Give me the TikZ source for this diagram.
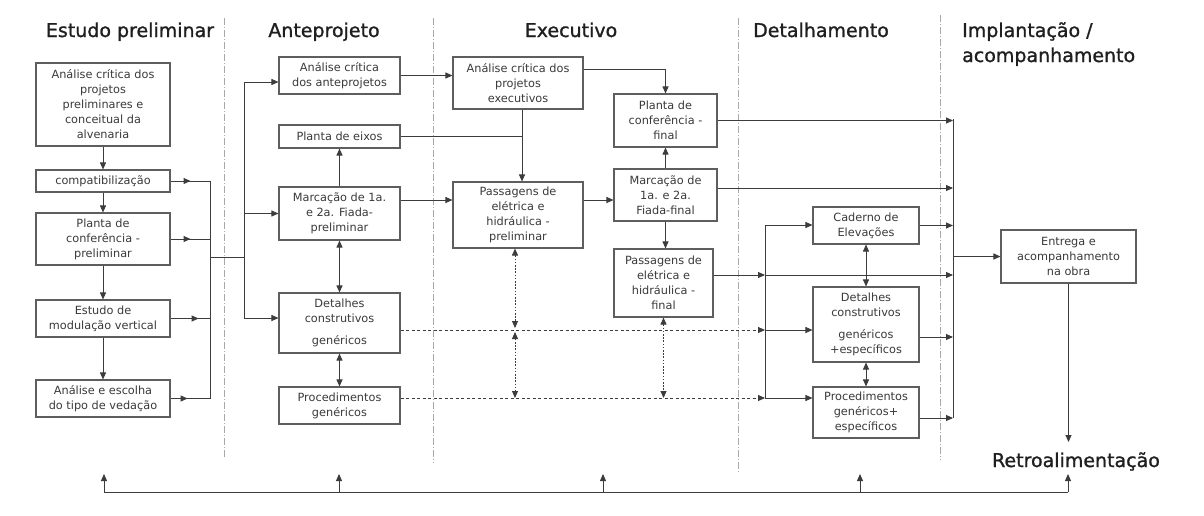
\documentclass[tikz,border=0pt]{standalone}
\usepackage{fontspec}
\setmainfont{DejaVu Sans}
\newfontfamily\headfont[FakeBold=1.1]{DejaVu Sans}
\usetikzlibrary{arrows.meta,decorations.markings}

\definecolor{boxgray}{HTML}{5E5E5E}
\definecolor{linegray}{HTML}{3C3C3C}
\definecolor{textgray}{HTML}{3A3A3A}
\definecolor{sepgray}{HTML}{A8A8A8}

\begin{document}
\begin{tikzpicture}[x=1pt,y=-1pt,
  box/.style={draw=boxgray, line width=1.1pt, inner sep=0pt, align=center,
    font=\fontsize{11.3}{15}\selectfont, text=textgray},
  head/.style={font=\headfont\fontsize{19}{25}\selectfont, text=black!88, anchor=base, inner sep=0pt},
  conn/.style={draw=linegray, line width=0.9pt},
  tip/.style={-{Triangle[length=7pt,width=6pt]}},
  arr/.style={conn, tip},
  darr/.style={conn, {Triangle[length=7pt,width=6pt]}-{Triangle[length=7pt,width=6pt]}},
  dotarr/.style={darr, dash pattern=on 1.6pt off 1.6pt},
  dashln/.style={conn, tip, dash pattern=on 3pt off 2.5pt},
  sep/.style={draw=sepgray, line width=0.9pt, dash pattern=on 7pt off 2pt on 1pt off 2pt},
  headat/.style={conn, postaction={decorate}, decoration={markings,
    mark=at position #1 with {\arrow{Triangle[length=7pt,width=6pt]}}}},
]
\useasboundingbox[fill=white] (0,0) rectangle (1204,515);

% phase separators
\draw[sep] (224,18) -- (224,457);
\draw[sep] (433,18) -- (433,463);
\draw[sep] (738,18) -- (738,473);
\draw[sep] (940,15) -- (940,460);

% phase titles
\node[head] (h1) at (130,37) {Estudo preliminar};
\node[head] (h2) at (324,37) {Anteprojeto};
\node[head] (h3) at (571,37) {Executivo};
\node[head] (h4) at (821,37) {Detalhamento};
\node[head, anchor=base west] (h5a) at (962,37) {Implantação /};
\node[head, anchor=base west] (h5b) at (962,62) {acompanhamento};

% Estudo preliminar
\node[box, minimum width=134, minimum height=83] (a1) at (103,104.5)
  {Análise crítica dos\\projetos\\preliminares e\\conceitual da\\alvenaria};
\node[box, minimum width=134, minimum height=22] (comp) at (103,181) {compatibilização};
\node[box, minimum width=134, minimum height=52] (pcp) at (103,239)
  {Planta de\\conferência -\\preliminar};
\node[box, minimum width=134, minimum height=37] (mod) at (103,318.5)
  {Estudo de\\modulação vertical};
\node[box, minimum width=134, minimum height=37] (esc) at (103,398.5)
  {Análise e escolha\\do tipo de vedação};

% Anteprojeto
\node[box, minimum width=121, minimum height=37] (a2) at (339.5,75.5)
  {Análise crítica\\dos anteprojetos};
\node[box, minimum width=121, minimum height=23] (eixos) at (339.5,136.5) {Planta de eixos};
\node[box, minimum width=121, minimum height=53] (mp) at (339.5,213.5)
  {Marcação de 1a.\\e 2a. Fiada-\\preliminar};
\node[box, minimum width=121, minimum height=60] (det) at (339.5,323)
  {Detalhes\\construtivos\\[7pt]genéricos};
\node[box, minimum width=121, minimum height=37] (proc) at (339.5,405.5)
  {Procedimentos\\genéricos};

% Executivo
\node[box, minimum width=130, minimum height=52] (e1) at (518,83)
  {Análise crítica dos\\projetos\\executivos};
\node[box, minimum width=130, minimum height=66] (pp) at (518,215)
  {Passagens de\\elétrica e\\hidráulica -\\preliminar};
\node[box, minimum width=103, minimum height=53] (plf) at (665.5,120.5)
  {Planta de\\conferência -\\final};
\node[box, minimum width=103, minimum height=52] (mf) at (665.5,195)
  {Marcação de\\1a. e 2a.\\Fiada-final};
\node[box, minimum width=99, minimum height=68] (pfin) at (663.5,283)
  {Passagens de\\elétrica e\\hidráulica -\\final};

% Detalhamento
\node[box, minimum width=106, minimum height=37] (cad) at (866,225.5)
  {Caderno de\\Elevações};
\node[box, minimum width=106, minimum height=75] (det2) at (866,324.5)
  {Detalhes\\construtivos\\[7pt]genéricos\\+específicos};
\node[box, minimum width=106, minimum height=51] (proc2) at (866,412.5)
  {Procedimentos\\genéricos+\\específicos};

% Implantação
\node[box, minimum width=135, minimum height=53] (ent) at (1068.5,256.5)
  {Entrega e\\acompanhamento\\na obra};
\node[head, inner sep=0pt] (retro) at (1076,467) {Retroalimentação};

% --- connectors: Estudo preliminar
\draw[arr] (a1.south) -- (comp.north);
\draw[arr] (comp.south) -- (pcp.north);
\draw[arr] (pcp.south) -- (mod.north);
\draw[arr] (mod.south) -- (esc.north);

\coordinate (busLtop) at (210,181);
\coordinate (busLbot) at (210,399);
\draw[headat=20pt] (comp.east) -- (comp.east -| busLtop);
\draw[headat=20pt] (pcp.east) -- (pcp.east -| busLtop);
\draw[headat=28pt] (mod.east) -- (mod.east -| busLtop);
\draw[headat=17pt] (esc.east) -- (esc.east -| busLtop);
\draw[conn] (busLtop) -- (busLbot);

\coordinate (jL) at (210,257);
\coordinate (jM) at (244,257);
\coordinate (busMtop) at (244,82);
\coordinate (busMbot) at (244,318);
\draw[conn] (jL) -- (jM);
\draw[conn] (busMtop) -- (busMbot);
\draw[arr] (busMtop) -- (busMtop -| a2.west);
\draw[arr] (busMtop |- mp.west) -- (mp.west);
\draw[arr] (busMbot) -- (busMbot -| det.west);

% --- connectors: Anteprojeto
\draw[arr] (mp.north) -- (eixos.south);
\draw[darr] (mp.south) -- (det.north);
\draw[darr] (det.south) -- (proc.north);
\draw[arr] (a2.east) -- (a2.east -| e1.west);
\coordinate (evx) at ([xshift=4pt]e1.south);
\draw[conn] (eixos.east) -- (eixos.east -| evx);
\draw[arr] (evx) -- (evx |- pp.north);
\draw[arr] ([yshift=13.5pt]mp.east) -- ([yshift=13.5pt]mp.east -| pp.west);

% --- connectors: Executivo
\draw[arr] ([yshift=14pt]e1.east) -| (plf.north);
\draw[arr] ([yshift=15pt]pp.east) -- ([yshift=15pt]pp.east -| mf.west);
\draw[arr] (mf.north) -- (plf.south);
\draw[arr] (mf.south) -- (mf.south |- pfin.north);

% --- bus feeding Detalhamento
\coordinate (busDtop) at (765,225);
\coordinate (busDbot) at (765,399);
\draw[conn] (busDtop) -- (busDbot);
\draw[arr] (busDtop) -- (busDtop -| cad.west);
\coordinate (dd) at ([yshift=-7pt]det.east);
\draw[dashln] (dd) -- (dd -| busDtop);
\draw[arr] (dd -| busDtop) -- (dd -| det2.west);
\coordinate (pd) at ([yshift=7.5pt]proc.east);
\draw[dashln] (pd) -- (pd -| busDbot);
\draw[arr] (pd -| busDbot) -- (pd -| det2.west);

% dotted links between the preliminary and final items
\coordinate (dA) at ([xshift=-3pt]pp.south);
\draw[dotarr, shorten >=2pt] (dA) -- (dA |- dd);
\draw[dotarr, shorten <=2pt] (dA |- dd) -- (dA |- pd);
\draw[dotarr] (pfin.south) -- (pfin.south |- pd);

% --- Detalhamento
\draw[darr] (cad.south) -- (det2.north);
\draw[darr] (det2.south) -- (proc2.north);

% --- bus feeding Implantação
\coordinate (busRtop) at (953,119);
\coordinate (busRbot) at (953,418);
\draw[conn] (busRtop) -- (busRbot);
\draw[arr] (plf.east) -- (plf.east -| busRtop);
\draw[arr] ([yshift=7pt]mf.east) -- ([yshift=7pt]mf.east -| busRtop);
\draw[arr] (cad.east) -- (cad.east -| busRtop);
\coordinate (pfx) at ([yshift=8pt]pfin.east);
\draw[arr] (pfx) -- (pfx -| busDtop);
\draw[arr] (pfx -| busDtop) -- (pfx -| busRtop);
\draw[arr] ([yshift=-12.5pt]det2.east) -- ([yshift=-12.5pt]det2.east -| busRtop);
\draw[arr] ([yshift=-5.5pt]proc2.east) -- ([yshift=-5.5pt]proc2.east -| busRtop);
\draw[arr] (busRtop |- ent.west) -- (ent.west);

% --- feedback
\coordinate (rtip) at (1068.5,442);
\draw[arr] (ent.south) -- (rtip);
\coordinate (fbL) at (104,492);
\coordinate (fbR) at (1068,492);
\draw[conn] (fbL) -- (fbR);
\foreach \x/\n in {104/a,339/b,603/c,860/d,1068/e}{
  \coordinate (fb\n) at (\x,492);
  \coordinate (ft\n) at (\x,474);
  \draw[arr] (fb\n) -- (ft\n);
}
\end{tikzpicture}
\end{document}
